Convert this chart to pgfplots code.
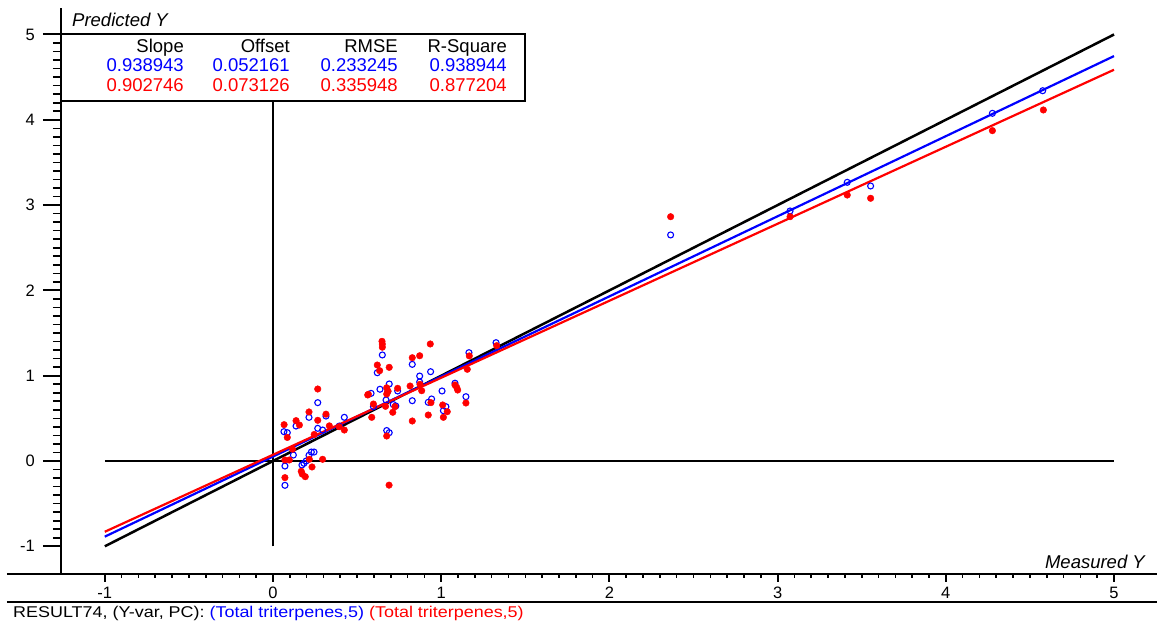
\documentclass[border=0pt]{standalone}
\usepackage{fontspec}
\setmainfont{Liberation Sans}
\newfontfamily\capfont[FakeStretch=1.15]{Liberation Sans}
\usepackage{pgfplots}
\pgfplotsset{compat=1.18}
\definecolor{pblue}{RGB}{0,0,255}
\definecolor{pred}{RGB}{255,0,0}

\pgfplotstableread{
x y
0.266 0.684
0.214 0.512
0.315 0.527
0.424 0.512
0.065 0.344
0.085 0.332
0.137 0.410
0.266 0.383
0.295 0.363
0.394 0.410
0.121 0.070
0.214 0.067
0.228 0.105
0.244 0.105
0.071 -0.059
0.172 -0.047
0.184 -0.027
0.197 0.000
0.071 -0.285
0.650 1.243
0.828 1.133
0.620 1.035
0.872 0.996
0.937 1.047
1.165 1.270
0.691 0.903
0.636 0.841
0.741 0.821
0.682 0.813
0.583 0.793
0.872 0.926
1.005 0.821
1.082 0.912
1.147 0.754
0.828 0.707
0.943 0.727
0.923 0.688
1.028 0.637
1.013 0.590
0.715 0.662
0.730 0.645
0.672 0.715
0.597 0.637
0.676 0.357
0.691 0.332
1.326 1.387
2.364 2.650
3.074 2.931
3.414 3.267
3.553 3.224
4.277 4.076
4.576 4.341
}\bluedata

\pgfplotstableread{
x y
0.266 0.844
0.563 0.774
0.066 0.426
0.137 0.473
0.157 0.422
0.214 0.575
0.315 0.549
0.266 0.477
0.085 0.276
0.245 0.311
0.335 0.412
0.393 0.402
0.424 0.363
0.116 0.139
0.071 0.012
0.097 0.012
0.216 0.020
0.295 0.020
0.232 -0.070
0.168 -0.121
0.174 -0.154
0.192 -0.184
0.071 -0.195
0.648 1.403
0.650 1.370
0.650 1.334
0.935 1.372
0.828 1.211
0.872 1.234
0.620 1.125
0.634 1.059
0.691 1.098
0.567 0.782
0.676 0.858
0.684 0.819
0.676 0.785
0.741 0.852
0.815 0.879
0.874 0.899
0.884 0.824
0.597 0.668
0.669 0.641
0.725 0.637
0.712 0.571
0.587 0.512
0.939 0.684
1.009 0.657
1.036 0.578
1.013 0.512
0.923 0.539
0.828 0.469
1.082 0.891
1.092 0.864
1.098 0.832
1.147 0.680
1.155 1.075
1.167 1.232
0.676 0.293
0.690 -0.283
1.330 1.352
2.364 2.864
3.074 2.864
3.414 3.118
3.553 3.080
4.277 3.873
4.580 4.115
}\reddata

\begin{document}
\begin{tikzpicture}[x=1pt,y=1pt]
\pgfplotsset{
  base/.style={
    anchor=origin, at={(0,0)},
    x=168.2pt, y=85.3pt,
    xmin=-1.2604, xmax=5.2556, ymin=-1.3247, ymax=5.3107,
    clip=false,
    axis line style={line width=2pt, black},
    tick align=outside,
    major tick style={line width=2pt, black},
    minor tick style={line width=1.6pt, black},
    /pgf/number format/assume math mode=true,
    tick label style={font=\fontsize{16.5}{18}\selectfont, inner sep=0pt},
  }
}
% axis with x ticks and data
\begin{axis}[base,
  axis x line*=bottom, axis y line=none,
  xtick={-1,0,1,2,3,4,5}, minor x tick num=9,
  major tick length=8pt, minor tick length=4pt,
  xticklabel style={yshift=-5pt},
]
\addplot[only marks, mark=o, mark size=3pt, mark options={line width=1.1pt, draw=pblue}] table {\bluedata};
\addplot[only marks, mark=*, mark size=3.3pt, mark options={draw=pred, fill=pred}] table {\reddata};
\addplot[black, line width=2pt] coordinates {(-1,0) (5,0)};
\addplot[black, line width=2pt] coordinates {(0,-1) (0,5)};
\addplot[black, line width=2.5pt] coordinates {(-1,-1) (5,5)};
\addplot[pblue, line width=2.2pt] coordinates {(-1,-0.886782) (5,4.746876)};
\addplot[pred, line width=2.2pt] coordinates {(-1,-0.829620) (5,4.586856)};
\end{axis}
% axis with y ticks
\begin{axis}[base,
  axis y line*=left, axis x line=none,
  ytick={-1,0,1,2,3,4,5}, minor y tick num=9,
  major tick length=18pt, minor tick length=8pt,
  yticklabel style={xshift=-8pt},
]
\end{axis}
% extension of bottom axis line and separator
\draw[line width=2pt] (-266,-113) -- (-212,-113);
\draw[line width=2pt] (-266,-141) -- (884,-141);
% axis titles
\node[anchor=base west, inner sep=0pt, font=\fontsize{18.5}{20}\selectfont\itshape] at (-201,434) {Predicted Y};
\node[anchor=base east, inner sep=0pt, font=\fontsize{18.5}{20}\selectfont\itshape] at (872,-107) {Measured Y};
% statistics table
\draw[line width=2pt, fill=white] (-212,427) rectangle (252,360);
\begin{scope}[every node/.style={anchor=base east, inner sep=0pt, font=\fontsize{18.5}{20}\selectfont}]
\node at (-89,408) {Slope};
\node at (17,408) {Offset};
\node at (125,408) {RMSE};
\node at (234,408) {R-Square};
\node[text=pblue] at (-89,389) {0.938943};
\node[text=pblue] at (17,389) {0.052161};
\node[text=pblue] at (125,389) {0.233245};
\node[text=pblue] at (234,389) {0.938944};
\node[text=pred] at (-89,369.5) {0.902746};
\node[text=pred] at (17,369.5) {0.073126};
\node[text=pred] at (125,369.5) {0.335948};
\node[text=pred] at (234,369.5) {0.877204};
\end{scope}
% caption
\node[anchor=base west, inner sep=0pt, font=\capfont\fontsize{15.6}{18}\selectfont] at (-260,-156)
  {RESULT74, (Y-var, PC): \textcolor{pblue}{(Total triterpenes,5)} \textcolor{pred}{(Total triterpenes,5)}};
\pgfresetboundingbox
\path[use as bounding box] (-273,-163) rectangle (884,461);
\end{tikzpicture}
\end{document}
